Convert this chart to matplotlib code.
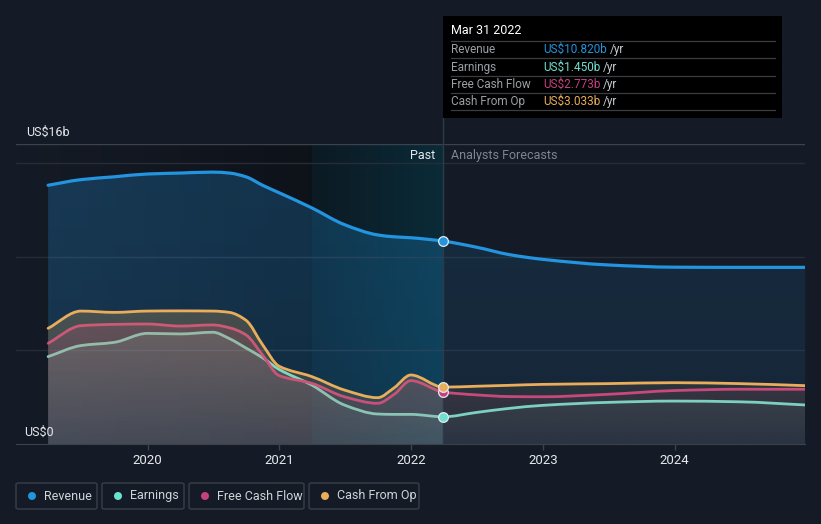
import numpy as np
import pandas as pd
import matplotlib
matplotlib.use("Agg")
import matplotlib.pyplot as plt
from matplotlib.patches import Rectangle, FancyBboxPatch, PathPatch, Ellipse
from matplotlib.path import Path
from matplotlib.colors import to_rgb

plt.rcParams['font.family'] = ['Roboto', 'DejaVu Sans']

# ---- data (US$ billions, trailing twelve months) ----
past_dates = ['2019-03-31', '2019-06-30', '2019-09-30', '2019-12-31', '2020-03-31',
              '2020-06-30', '2020-08-15', '2020-09-30', '2020-11-15', '2020-12-31',
              '2021-03-31', '2021-06-30', '2021-09-30', '2021-11-15', '2021-12-31',
              '2022-03-31']
fc_dates = ['2022-03-31', '2022-06-30', '2022-09-30', '2022-12-31', '2023-06-30',
            '2023-12-31', '2024-06-30', '2024-12-31']

revenue_past = [13.8, 14.1, 14.25, 14.4, 14.45, 14.5, 14.45, 14.25, 13.8, 13.4,
                12.6, 11.7, 11.15, 11.05, 11.0, 10.82]
earnings_past = [4.66, 5.25, 5.42, 5.9, 5.87, 5.96, 5.62, 5.12, 4.6, 3.98,
                 3.15, 2.08, 1.6, 1.58, 1.58, 1.45]
fcf_past = [5.37, 6.31, 6.38, 6.4, 6.29, 6.35, 6.2, 5.82, 4.75, 3.65,
            3.24, 2.52, 2.17, 2.65, 3.38, 2.773]
cfo_past = [6.17, 7.09, 7.02, 7.09, 7.1, 7.09, 7.02, 6.6, 5.3, 4.15,
            3.6, 2.88, 2.47, 3.0, 3.68, 3.033]

revenue_fc = [10.82, 10.5, 10.1, 9.85, 9.55, 9.43, 9.42, 9.42]
earnings_fc = [1.45, 1.68, 1.9, 2.06, 2.22, 2.29, 2.25, 2.08]
fcf_fc = [2.773, 2.62, 2.53, 2.52, 2.65, 2.85, 2.92, 2.92]
cfo_fc = [3.033, 3.08, 3.13, 3.18, 3.22, 3.27, 3.22, 3.11]

names = ['Revenue', 'Earnings', 'Free Cash Flow', 'Cash From Op']
colors = ['#2394df', '#6ee0d0', '#c4417f', '#e9ad5c']
tip_values = ['US$10.820b', 'US$1.450b', 'US$2.773b', 'US$3.033b']

W, H = 821, 524
BG = '#151b26'


def to_year(dates):
    t = pd.to_datetime(dates)
    days = np.where(t.is_leap_year, 366, 365)
    return np.array(t.year + (t.dayofyear - 1) / days)


def px(x, y):
    return x / W, 1 - y / H


def smooth_verts(x, y):
    # monotone cubic bezier segments through the data points (like d3 curveMonotoneX)
    x = np.asarray(x, float)
    y = np.asarray(y, float)
    dx = np.diff(x)
    m = np.diff(y) / dx
    t = np.zeros_like(y)
    t[0], t[-1] = m[0], m[-1]
    for k in range(1, len(y) - 1):
        if m[k - 1] * m[k] > 0:
            t[k] = 2 / (1 / m[k - 1] + 1 / m[k])
    verts = [(x[0], y[0])]
    codes = [Path.MOVETO]
    for k in range(len(dx)):
        h = dx[k] / 3
        verts += [(x[k] + h, y[k] + t[k] * h), (x[k + 1] - h, y[k + 1] - t[k + 1] * h),
                  (x[k + 1], y[k + 1])]
        codes += [Path.CURVE4] * 3
    return verts, codes


def draw_line(ax, x, y, color, lw, z):
    v, c = smooth_verts(x, y)
    ax.add_patch(PathPatch(Path(v, c), facecolor='none', edgecolor=color, lw=lw,
                           zorder=z, capstyle='round', joinstyle='round'))


def grad_fill(ax, x, y, color, a_top, a_bot, z):
    v, c = smooth_verts(x, y)
    v = v + [(x[-1], 0), (x[0], 0), (x[0], y[0])]
    c = c + [Path.LINETO, Path.LINETO, Path.CLOSEPOLY]
    patch = PathPatch(Path(v, c), facecolor='none', edgecolor='none')
    ax.add_patch(patch)
    img = np.zeros((120, 2, 4))
    img[:, :, :3] = to_rgb(color)
    img[:, :, 3] = np.linspace(a_top, a_bot, 120)[:, None]
    im = ax.imshow(img, extent=[x[0], x[-1], 0, max(y) + 0.3], origin='upper',
                   aspect='auto', zorder=z, interpolation='bilinear')
    im.set_clip_path(patch)


xp = to_year(past_dates)
xf = to_year(fc_dates)
now = xp[-1]
start_hl = to_year(['2021-03-31'])[0]

fig = plt.figure(figsize=(W / 100, H / 100), dpi=100, facecolor=BG)
ax = fig.add_axes([16 / W, 80 / H, 789 / W, 300 / H])
ax.set_facecolor(BG)

# background shading: darkening past + highlighted last year
dark = np.zeros((2, 100, 4))
dark[:, :, 3] = np.linspace(0.0, 0.34, 100)[None, :]
ax.imshow(dark, extent=[2019.0, start_hl, 0, 16], aspect='auto', zorder=0.5,
          interpolation='bilinear')
teal = np.zeros((2, 100, 4))
teal[:, :, :3] = np.linspace(to_rgb('#0c1a23'), to_rgb('#0a2b38'), 100)[None, :, :]
teal[:, :, 3] = 1
ax.imshow(teal, extent=[start_hl, now, 0, 16], aspect='auto', zorder=0.6,
          interpolation='bilinear')

# grid
for g in [5, 10, 15]:
    ax.axhline(g, color='#262d38', lw=1, zorder=0.8)
ax.axhline(16, color='#3c424c', lw=1, zorder=0.8)

series = [(revenue_past, revenue_fc), (earnings_past, earnings_fc),
          (fcf_past, fcf_fc), (cfo_past, cfo_fc)]
fill_alpha = [(0.26, 0.2, 0.13, 0.10), (0.16, 0.08, 0.08, 0.04),
              (0.22, 0.12, 0.09, 0.05), (0.25, 0.12, 0.10, 0.05)]
z_base = [1, 2, 3, 4]

for i, (sp, sf) in enumerate(series):
    c = colors[i]
    ap, bp, af, bf = fill_alpha[i]
    grad_fill(ax, xp, sp, c, ap, bp, z_base[i])
    grad_fill(ax, xf, sf, c, af, bf, z_base[i])
    lz = 10 if i == 0 else z_base[i] + 0.5
    lw = 2.3 if i == 0 else 2.0
    draw_line(ax, np.r_[xp, xf[1:]], np.r_[sp, sf[1:]], c, lw, lz)

# now marker + vertical line
ax.plot([now, now], [0, 17.39], color='#2b3b48', lw=1, zorder=9, clip_on=False)
for i, (sp, sf) in enumerate(series):
    ax.plot(now, sp[-1], 'o', ms=7, mfc=colors[i], mec='#e6e9ee', mew=0.9, zorder=11)

ax.set_xlim(2019.0, 2024.99)
ax.set_ylim(0, 16)
for s in ['top', 'right', 'left']:
    ax.spines[s].set_visible(False)
ax.spines['bottom'].set_color('#3c424c')
ax.set_yticks([])
ax.set_xticks([2020, 2021, 2022, 2023, 2024])
ax.set_xticklabels(['2020', '2021', '2022', '2023', '2024'])
ax.tick_params(axis='x', colors='#3c424c', length=4, width=1, labelcolor='#e6e8eb',
               labelsize=9.5, pad=3)

ax.text(*px(26, 132), 'US$16b', transform=fig.transFigure, color='#e6e8eb',
        fontsize=9, va='center', ha='left')
ax.text(*px(24, 432), 'US$0', transform=fig.transFigure, color='#e6e8eb',
        fontsize=9, va='center', ha='left', zorder=20)
ax.text(*px(435, 156), 'Past', transform=fig.transFigure, color='#e6e8eb',
        fontsize=9, va='center', ha='right', zorder=20)
ax.text(*px(451, 156), 'Analysts Forecasts', transform=fig.transFigure,
        color='#80868e', fontsize=9, va='center', ha='left', zorder=20)

# tooltip
fig.patches.append(Rectangle(px(443, 118), 339 / W, 102 / H, transform=fig.transFigure,
                             facecolor='#000000', edgecolor='none', zorder=20))
fig.text(*px(451, 31), 'Mar 31 2022', color='#ffffff', fontsize=9, va='center',
         ha='left', zorder=21)
for yy in [41, 58, 76, 93, 110]:
    fig.add_artist(plt.Line2D([451 / W, 775 / W], [1 - yy / H] * 2, color='#3a3d42',
                              lw=0.9, zorder=21))
renderer = fig.canvas.get_renderer()
for k, yy in enumerate([49.5, 67, 84.5, 101.5]):
    fig.text(*px(451, yy), names[k], color='#9aa0a6', fontsize=8.5, va='center',
             ha='left', zorder=21)
    t = fig.text(*px(543, yy), tip_values[k], color=colors[k], fontsize=8.5,
                 va='center', ha='left', zorder=21)
    bb = t.get_window_extent(renderer)
    fig.text(bb.x1 / W + 3 / W, 1 - yy / H, '/yr', color='#c8ccd1', fontsize=8.5,
             va='center', ha='left', zorder=21)

# legend
boxes = [(16, 97), (102, 184), (189, 304), (309, 419)]
for k, (x0, x1) in enumerate(boxes):
    fig.patches.append(FancyBboxPatch(px(x0, 509), (x1 - x0) / W, 26 / H,
                                      boxstyle='round,pad=0,rounding_size=0.003',
                                      transform=fig.transFigure, facecolor=BG,
                                      edgecolor='#3a3f48', lw=1))
    fig.patches.append(Ellipse(px(x0 + 16, 496), 8 / W, 8 / H, transform=fig.transFigure,
                               facecolor=colors[k], edgecolor='none'))
    fig.text(*px(x0 + 28, 496), names[k], color='#d0d3d8', fontsize=9,
             va='center', ha='left')

fig.savefig('out.png', dpi=100, facecolor=BG)
